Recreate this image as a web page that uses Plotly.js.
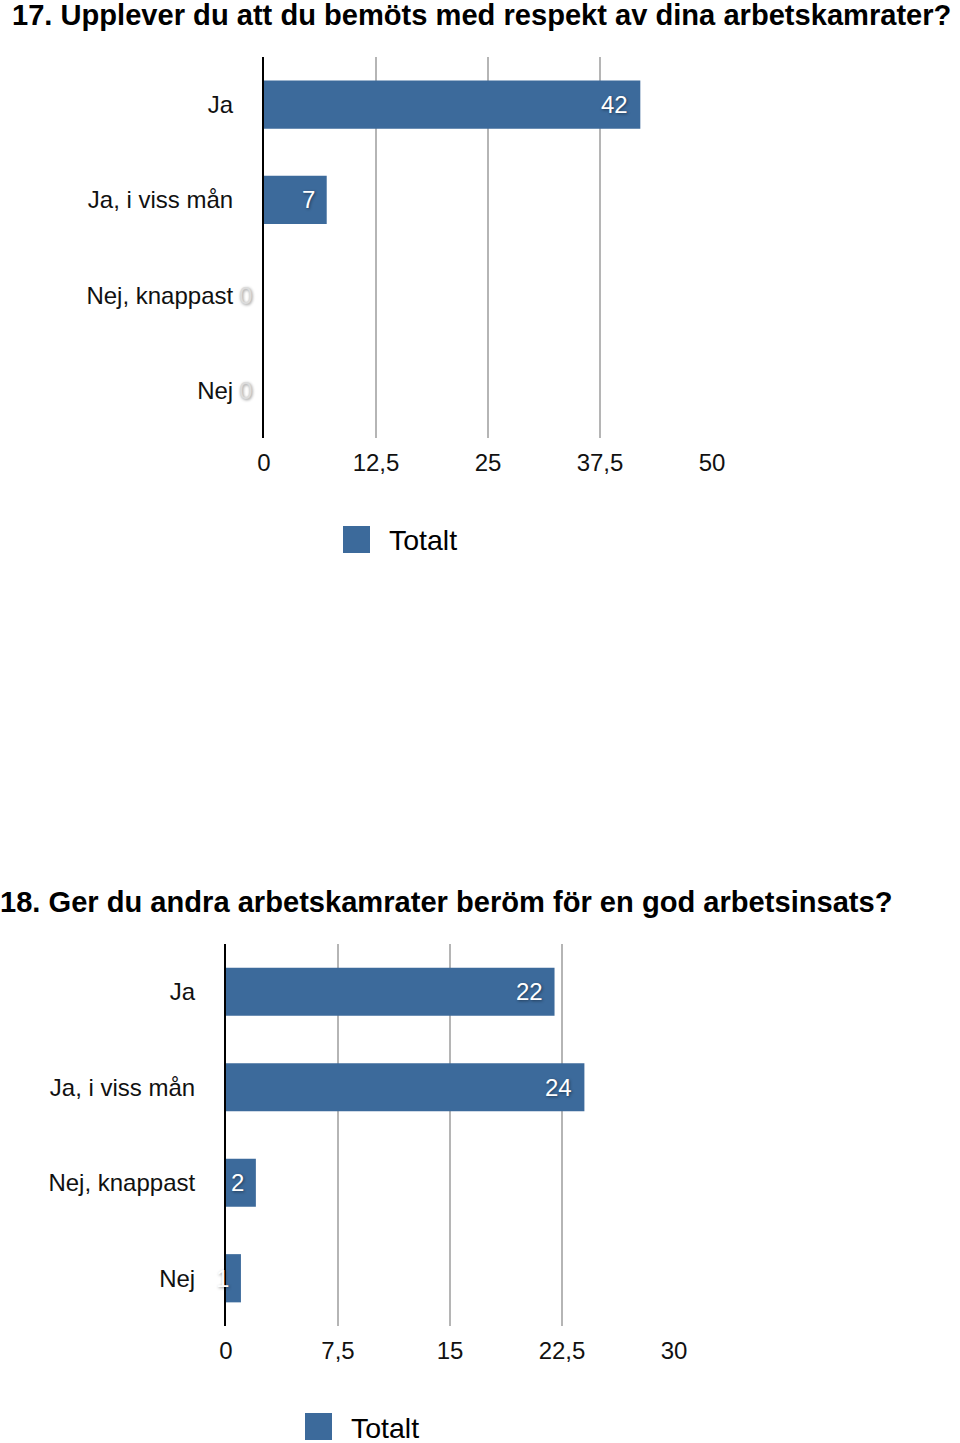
<!DOCTYPE html>
<html>
<head>
<meta charset="utf-8">
<script src="https://cdn.plot.ly/plotly-3.0.1.min.js"></script>
<style>html,body{margin:0;padding:0;background:#fff;}#chart{width:960px;height:1443px;}</style>
</head>
<body>
<div id="chart"></div>
<script>
const categories = ['Ja', 'Ja, i viss mån', 'Nej, knappast', 'Nej'];
const q17Values = [42, 7, 0, 0];
const q18Values = [22, 24, 2, 1];
const q17Title = '17. Upplever du att du bemöts med respekt av dina arbetskamrater?';
const q18Title = '18. Ger du andra arbetskamrater beröm för en god arbetsinsats?';
const q17Ticks = [0, 12.5, 25, 37.5, 50];
const q18Ticks = [0, 7.5, 15, 22.5, 30];
const seriesName = 'Totalt';

const W = 960, H = 1443;
const FONT = 'Liberation Sans, Arial, Helvetica, sans-serif';
const BAR = '#3c6a9b';
const px = v => v / W;
const py = v => 1 - v / H;

const traces = [
  {type: 'bar', orientation: 'h', y: categories, x: q17Values, xaxis: 'x', yaxis: 'y',
   marker: {color: BAR}, name: seriesName, showlegend: false, hoverinfo: 'x+y'},
  {type: 'bar', orientation: 'h', y: categories, x: q18Values, xaxis: 'x2', yaxis: 'y2',
   marker: {color: BAR}, name: seriesName, showlegend: false, hoverinfo: 'x+y'}
];

function xAxis(ticks, domain, anchor) {
  return {
    domain: domain, anchor: anchor, range: [ticks[0], ticks[ticks.length - 1]],
    tickvals: ticks, ticktext: ticks.map(t => String(t).replace('.', ',')),
    showgrid: true, gridcolor: '#b5b5b5', gridwidth: 2,
    zeroline: false, showline: false, ticks: '',
    tickfont: {family: FONT, size: 24, color: '#111'},
    ticklabelstandoff: 8, fixedrange: true
  };
}
function yAxis(domain, anchor) {
  return {
    domain: domain, anchor: anchor, type: 'category', autorange: 'reversed',
    showgrid: false, zeroline: false, showline: true, linecolor: '#000', linewidth: 2,
    ticks: '', tickfont: {family: FONT, size: 24, color: '#111'},
    ticklabelstandoff: 24, fixedrange: true
  };
}

const annotations = [];
function addValues(vals, xref, yref) {
  vals.forEach((v, i) => {
    annotations.push({
      x: v, y: categories[i], xref: xref, yref: yref, text: String(v),
      showarrow: false, xanchor: 'right', yanchor: 'middle', xshift: -10,
      font: {family: FONT, size: 24, color: v === 0 ? '#dcdcdc' : '#ffffff',
             shadow: '1px 1px 3px rgba(0,0,0,0.45)'}
    });
  });
}
addValues(q17Values, 'x', 'y');
addValues(q18Values, 'x2', 'y2');

annotations.push({xref: 'paper', yref: 'paper', x: px(10), y: py(15), xanchor: 'left', yanchor: 'middle',
  text: '<b>' + q17Title + '</b>', showarrow: false, font: {family: FONT, size: 29.1, color: '#000'}});
annotations.push({xref: 'paper', yref: 'paper', x: px(-2), y: py(902), xanchor: 'left', yanchor: 'middle',
  text: '<b>' + q18Title + '</b>', showarrow: false, font: {family: FONT, size: 29.1, color: '#000'}});

// legends
const shapes = [];
function addLegend(x0, y0, tx, ty) {
  shapes.push({type: 'rect', xref: 'paper', yref: 'paper', x0: px(x0), x1: px(x0 + 27), y0: py(y0), y1: py(y0 + 27),
    fillcolor: BAR, line: {width: 0}});
  annotations.push({xref: 'paper', yref: 'paper', x: px(tx), y: py(ty), xanchor: 'left', yanchor: 'middle',
    text: seriesName, showarrow: false, font: {family: FONT, size: 28.5, color: '#000'}});
}
addLegend(343, 526, 387, 540);
addLegend(305, 1413, 349, 1428);

const layout = {
  width: W, height: H, margin: {l: 0, r: 0, t: 0, b: 0},
  paper_bgcolor: '#fff', plot_bgcolor: 'rgba(0,0,0,0)',
  bargap: 0.495, showlegend: false,
  xaxis: xAxis(q17Ticks, [px(264), px(712)], 'y'),
  yaxis: yAxis([py(438), py(57)], 'x'),
  xaxis2: xAxis(q18Ticks, [px(226), px(674)], 'y2'),
  yaxis2: yAxis([py(1326), py(944)], 'x2'),
  annotations: annotations, shapes: shapes
};

Plotly.newPlot('chart', traces, layout, {displayModeBar: false, staticPlot: true});
</script>
</body>
</html>
